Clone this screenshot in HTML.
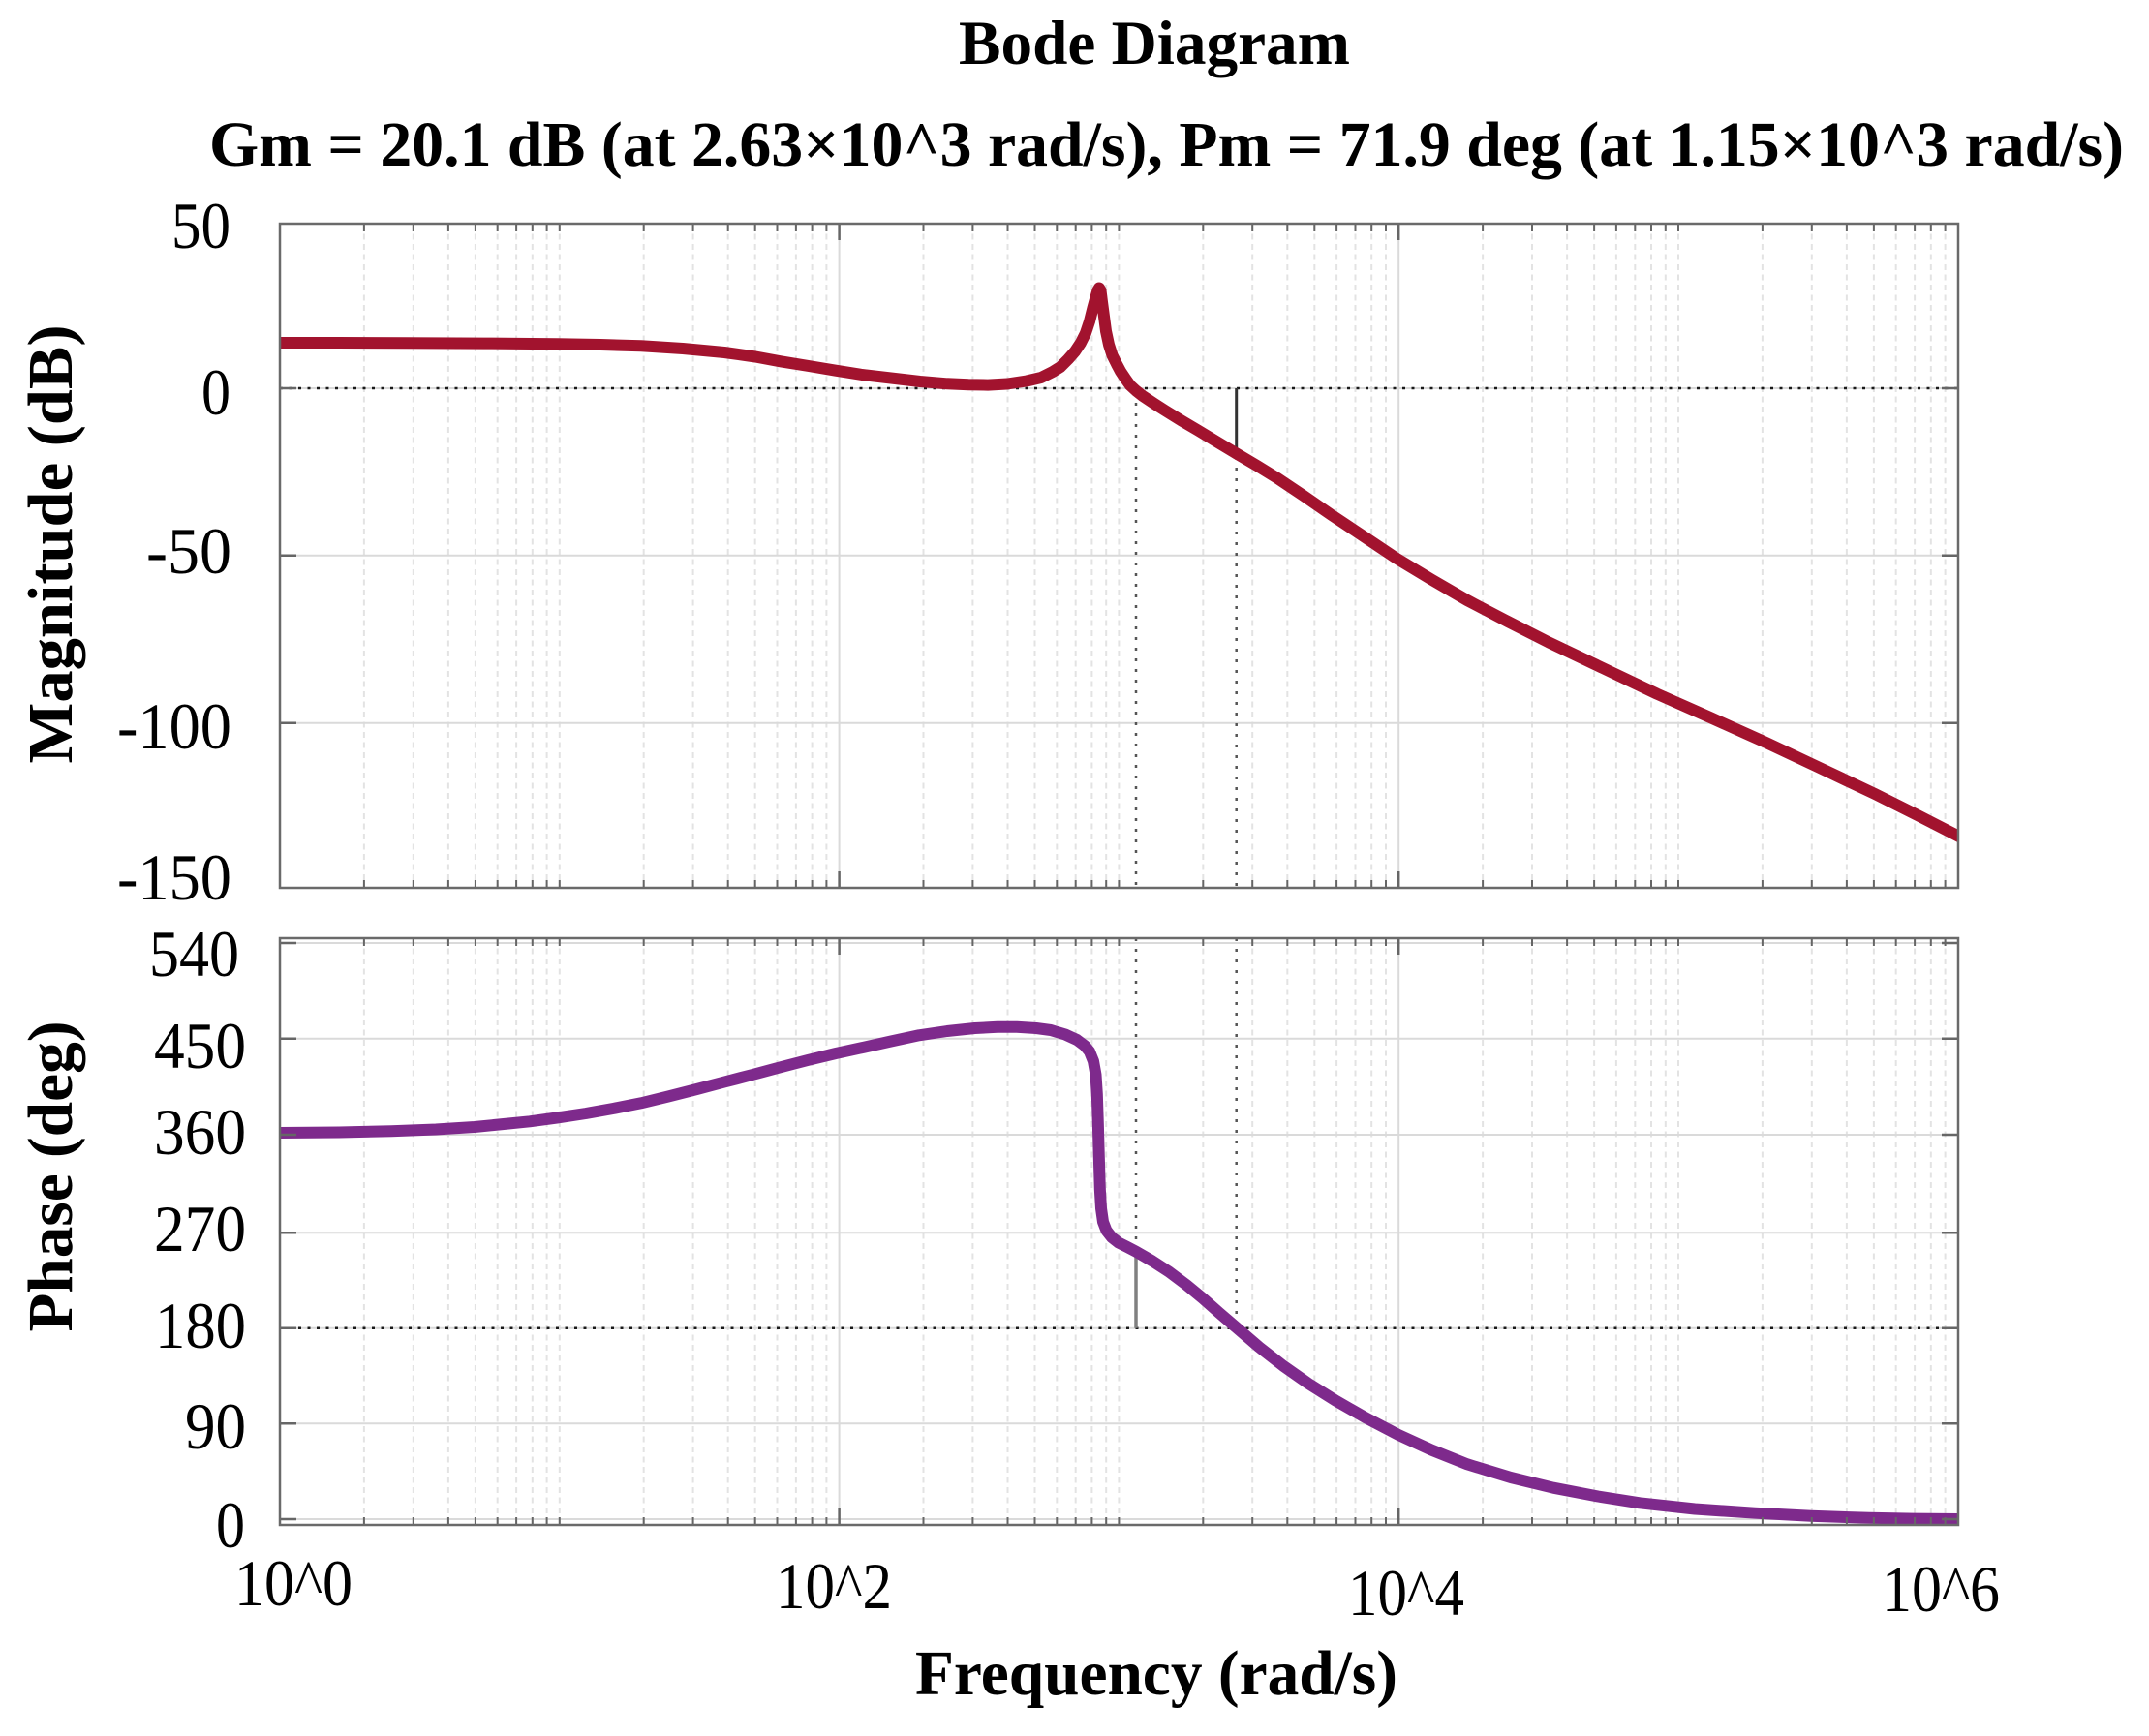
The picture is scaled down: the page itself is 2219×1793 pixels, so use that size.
<!DOCTYPE html>
<html>
<head>
<meta charset="utf-8">
<style>
html,body{margin:0;padding:0;background:#fff;}
svg{display:block;}
</style>
</head>
<body>
<svg width="2219" height="1793" viewBox="0 0 2219 1793" xmlns="http://www.w3.org/2000/svg">
<rect width="2219" height="1793" fill="#fff"/>
<defs>
<path id="vm" d="M375.9 231v686M426.8 231v686M462.9 231v686M490.9 231v686M513.7 231v686M533.1 231v686M549.8 231v686M564.6 231v686M577.8 231v686M664.7 231v686M715.6 231v686M751.7 231v686M779.7 231v686M802.5 231v686M821.9 231v686M838.6 231v686M853.4 231v686M953.5 231v686M1004.4 231v686M1040.5 231v686M1068.5 231v686M1091.3 231v686M1110.7 231v686M1127.4 231v686M1142.2 231v686M1155.4 231v686M1242.3 231v686M1293.2 231v686M1329.3 231v686M1357.3 231v686M1380.1 231v686M1399.5 231v686M1416.2 231v686M1431 231v686M1531.1 231v686M1582 231v686M1618.1 231v686M1646.1 231v686M1668.9 231v686M1688.3 231v686M1705 231v686M1719.8 231v686M1733 231v686M1819.9 231v686M1870.8 231v686M1906.9 231v686M1934.9 231v686M1957.7 231v686M1977.1 231v686M1993.8 231v686M2008.6 231v686"/>
<path id="vp" d="M375.9 969v606M426.8 969v606M462.9 969v606M490.9 969v606M513.7 969v606M533.1 969v606M549.8 969v606M564.6 969v606M577.8 969v606M664.7 969v606M715.6 969v606M751.7 969v606M779.7 969v606M802.5 969v606M821.9 969v606M838.6 969v606M853.4 969v606M953.5 969v606M1004.4 969v606M1040.5 969v606M1068.5 969v606M1091.3 969v606M1110.7 969v606M1127.4 969v606M1142.2 969v606M1155.4 969v606M1242.3 969v606M1293.2 969v606M1329.3 969v606M1357.3 969v606M1380.1 969v606M1399.5 969v606M1416.2 969v606M1431 969v606M1531.1 969v606M1582 969v606M1618.1 969v606M1646.1 969v606M1668.9 969v606M1688.3 969v606M1705 969v606M1719.8 969v606M1733 969v606M1819.9 969v606M1870.8 969v606M1906.9 969v606M1934.9 969v606M1957.7 969v606M1977.1 969v606M1993.8 969v606M2008.6 969v606"/>
<clipPath id="cm"><rect x="289" y="231" width="1733" height="686"/></clipPath>
<clipPath id="cp"><rect x="289" y="969" width="1733" height="606"/></clipPath>
</defs>

<!-- grid -->
<g fill="none" stroke-width="2">
<use href="#vm" stroke="#e3e3e3" stroke-dasharray="6 4.5"/>
<use href="#vp" stroke="#e3e3e3" stroke-dasharray="6 4.5"/>
<path stroke="#dadada" d="M866.6 231V917M1444.2 231V917M866.6 969V1575M1444.2 969V1575M289 401H2022M289 573.7H2022M289 746.7H2022M289 974H2022M289 1072.7H2022M289 1172H2022M289 1273.3H2022M289 1371.7H2022M289 1470.3H2022M289 1569H2022"/>
</g>

<!-- black dotted reference lines -->
<path d="M289 401H2022M289 1371.7H2022" fill="none" stroke="#1a1a1a" stroke-width="2.5" stroke-dasharray="3 6.5"/>

<!-- margin lines -->
<path d="M1173 405V917M1276.7 472V917M1173 969V1290M1276.7 969V1371" fill="none" stroke="#555" stroke-width="2.5" stroke-dasharray="3 8"/>
<path d="M1276.7 401V468" stroke="#333" stroke-width="3"/>
<path d="M1173 1292V1371.7" stroke="#808080" stroke-width="3.5"/>

<!-- magnitude curve -->
<g clip-path="url(#cm)">
<polyline fill="none" stroke="#a2132e" stroke-width="12" stroke-linejoin="round" stroke-linecap="round" points="289,354 350,354 420,354.2 500,354.6 576,355.3 620,356 662,357.3 705,360 748,364 780,368.5 806,373.3 835,378 863,382.7 890,387 920,390.5 950,394 978,396.3 1000,397.3 1020,397.6 1040,396.5 1060,393.5 1075,390 1087,384 1095,379 1103,371 1110,363 1116,354 1121,344 1125,332 1128.5,318 1131.5,307 1133.5,300 1135,297.5 1136.5,300 1138,312 1140,327 1142,342 1145,356 1148.5,367 1153,376 1157,383.5 1162,391 1167,398 1173,403.5 1180,409 1192,417 1203,424 1220,434.5 1237,444.5 1256,456 1276.5,468.3 1298,481 1318,493.3 1346,512 1374.5,531.7 1408,554 1442,576.7 1478,598.5 1515,620 1557,642 1599,663.3 1655,690 1711,716.7 1767,741.5 1823,766.7 1880,793.5 1936,820 1980,842 2025,865"/>
</g>

<!-- phase curve -->
<g clip-path="url(#cp)">
<polyline fill="none" stroke="#7e2a8c" stroke-width="12" stroke-linejoin="round" stroke-linecap="round" points="289,1170 350,1169.5 404,1168.3 450,1166.5 490,1164 520,1161 547,1158.3 575,1154.5 605,1150 633,1145 662,1139.3 690,1132.5 719.5,1125 748,1117.5 777,1110 805,1102.5 834,1095 863,1088 892,1081.7 920,1075.5 949,1069.3 978,1065 1006.6,1062 1030,1060.8 1050,1060.8 1070,1062 1085,1064 1100,1068.5 1112,1074 1120,1080 1125,1086 1129,1096 1131.5,1110 1132.8,1130 1133.8,1160 1134.8,1195 1135.8,1228 1137,1248 1139,1262 1142.5,1271 1148,1278 1155,1283.5 1164,1288 1173,1292.7 1190,1302.5 1207,1313.5 1225,1327 1242,1341 1259,1356 1276,1370.6 1300,1391.2 1325,1410.7 1351,1428.9 1379,1446.5 1410,1464.2 1444,1481.9 1478,1497.5 1515,1512.3 1560,1526 1604,1536.7 1650,1545.5 1693,1552.3 1750,1558.5 1812,1562.7 1870,1565.8 1930,1567.8 1975,1568.6 2025,1569"/>
</g>

<!-- ticks -->
<g fill="none" stroke="#666">
<use href="#vm" stroke-width="2" stroke-dasharray="8 670 8"/>
<use href="#vp" stroke-width="2" stroke-dasharray="8 590 8"/>
<path stroke-width="2.5" d="M866.6 231v17M1444.2 231v17M866.6 917v-17M1444.2 917v-17M866.6 969v17M1444.2 969v17M866.6 1575v-17M1444.2 1575v-17M289 401h17M289 573.7h17M289 746.7h17M2022 401h-17M2022 573.7h-17M2022 746.7h-17M289 974h17M289 1072.7h17M289 1172h17M289 1273.3h17M289 1371.7h17M289 1470.3h17M289 1569h17M2022 974h-17M2022 1072.7h-17M2022 1172h-17M2022 1273.3h-17M2022 1371.7h-17M2022 1470.3h-17M2022 1569h-17"/>
</g>

<!-- axes boxes -->
<rect x="289" y="231" width="1733" height="686" fill="none" stroke="#6a6a6a" stroke-width="2.5"/>
<rect x="289" y="969" width="1733" height="606" fill="none" stroke="#6a6a6a" stroke-width="2.5"/>

<!-- text -->
<g font-family="'Liberation Serif','Times New Roman',serif" fill="#000">
<text x="1192" y="66" font-size="65" font-weight="bold" text-anchor="middle" textLength="404" lengthAdjust="spacingAndGlyphs">Bode Diagram</text>
<text x="1204.5" y="171" font-size="66" font-weight="bold" text-anchor="middle" textLength="1977" lengthAdjust="spacingAndGlyphs">Gm = 20.1 dB (at 2.63×10^3 rad/s), Pm = 71.9 deg (at 1.15×10^3 rad/s)</text>
<text transform="translate(74,562) rotate(-90)" font-size="66" font-weight="bold" text-anchor="middle" textLength="453" lengthAdjust="spacingAndGlyphs">Magnitude (dB)</text>
<text transform="translate(74,1215) rotate(-90)" font-size="66" font-weight="bold" text-anchor="middle" textLength="321" lengthAdjust="spacingAndGlyphs">Phase (deg)</text>
<text x="1194" y="1750" font-size="66" font-weight="bold" text-anchor="middle" textLength="498" lengthAdjust="spacingAndGlyphs">Frequency (rad/s)</text>

<g font-size="68" text-anchor="end">
<text x="238" y="256" textLength="61" lengthAdjust="spacingAndGlyphs">50</text>
<text x="238" y="428" textLength="30" lengthAdjust="spacingAndGlyphs">0</text>
<text x="239" y="592" textLength="88" lengthAdjust="spacingAndGlyphs">-50</text>
<text x="239" y="773" textLength="118" lengthAdjust="spacingAndGlyphs">-100</text>
<text x="239" y="929" textLength="118" lengthAdjust="spacingAndGlyphs">-150</text>

<text x="247" y="1008" textLength="93" lengthAdjust="spacingAndGlyphs">540</text>
<text x="254" y="1103" textLength="95" lengthAdjust="spacingAndGlyphs">450</text>
<text x="254" y="1192" textLength="95" lengthAdjust="spacingAndGlyphs">360</text>
<text x="254" y="1292" textLength="95" lengthAdjust="spacingAndGlyphs">270</text>
<text x="254" y="1392" textLength="94" lengthAdjust="spacingAndGlyphs">180</text>
<text x="254" y="1496" textLength="63" lengthAdjust="spacingAndGlyphs">90</text>
<text x="253" y="1598" textLength="30" lengthAdjust="spacingAndGlyphs">0</text>
</g>

<g font-size="68" text-anchor="middle">
<text x="303" y="1658" textLength="122" lengthAdjust="spacingAndGlyphs">10^0</text>
<text x="861" y="1661" textLength="120" lengthAdjust="spacingAndGlyphs">10^2</text>
<text x="1452" y="1668" textLength="120" lengthAdjust="spacingAndGlyphs">10^4</text>
<text x="2004" y="1664" textLength="122" lengthAdjust="spacingAndGlyphs">10^6</text>
</g>
</g>
</svg>
</body>
</html>
